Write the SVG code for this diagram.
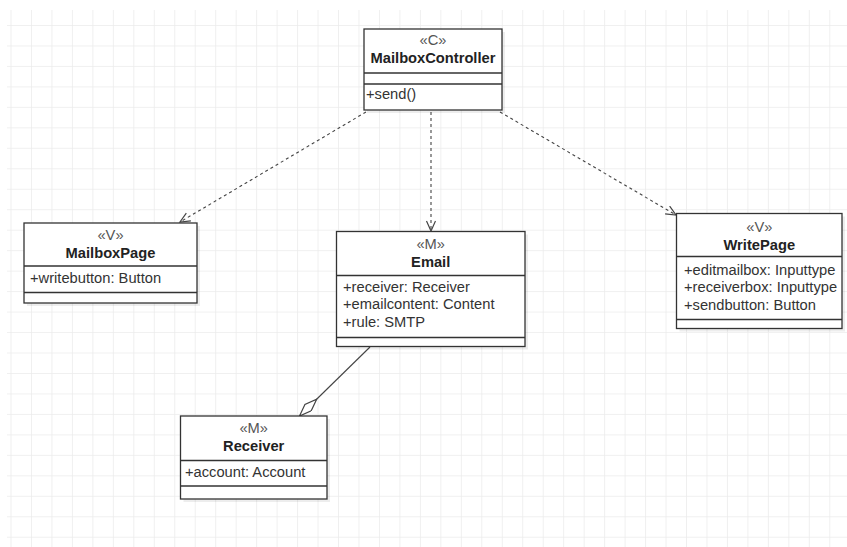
<svg xmlns="http://www.w3.org/2000/svg" width="847" height="547" viewBox="0 0 847 547">
<style>
text{font-family:"Liberation Sans",Arial,sans-serif;font-size:14.7px;fill:#333}
.st{text-anchor:middle;fill:#555}
.nm{text-anchor:middle;font-weight:bold;fill:#222}
.box{fill:#fff;stroke:#333;stroke-width:1.3}
.sh{fill:#000;opacity:0.07}
.dv{stroke:#333;stroke-width:1.3}
.dep{fill:none;stroke:#444;stroke-width:1.1;stroke-dasharray:3 3}
.agg{fill:none;stroke:#444;stroke-width:1.1}
</style>
<defs>
<pattern id="grid" patternUnits="userSpaceOnUse" x="10.5" y="25" width="20.47" height="20.47">
<path d="M0,0 V20.47 M0,0 H20.47" fill="none" stroke="#ebebeb" stroke-width="1.5"/>
</pattern>
<marker id="open" markerUnits="userSpaceOnUse" markerWidth="14" markerHeight="12" refX="11" refY="5" orient="auto" viewBox="0 0 14 12">
<path d="M1,0.5 L11,5 L1,9.5" fill="none" stroke="#444" stroke-width="1.2"/>
</marker>
<marker id="diamond" markerUnits="userSpaceOnUse" markerWidth="28" markerHeight="12" refX="25" refY="5" orient="auto" viewBox="0 0 28 12">
<path d="M1,5 L13,0.5 L25,5 L13,9.5 Z" fill="#fff" stroke="#444" stroke-width="1.2"/>
</marker>
</defs>
<rect width="847" height="547" fill="#fff"/>
<rect x="7" y="10" width="840" height="537" fill="url(#grid)"/>

<g id="connectors">
<line class="dep" x1="366" y1="112" x2="180" y2="222" marker-end="url(#open)"/>
<line class="dep" x1="431" y1="112" x2="431" y2="231" marker-end="url(#open)"/>
<line class="dep" x1="500" y1="112" x2="676" y2="215" marker-end="url(#open)"/>
<line class="agg" x1="370" y1="347" x2="299.5" y2="416" marker-end="url(#diamond)"/>
</g>

<g id="MailboxController">
<rect class="sh" x="367" y="32" width="138" height="81"/>
<rect class="box" x="364" y="29" width="138" height="81"/>
<line class="dv" x1="364" y1="73" x2="502" y2="73"/>
<line class="dv" x1="364" y1="84" x2="502" y2="84"/>
<text class="st" x="433" y="45">«C»</text>
<text class="nm" x="433" y="63">MailboxController</text>
<text x="366" y="99">+send()</text>
</g>

<g id="MailboxPage">
<rect class="sh" x="27" y="226" width="173" height="80"/>
<rect class="box" x="24" y="223" width="173" height="80"/>
<line class="dv" x1="24" y1="266" x2="197" y2="266"/>
<line class="dv" x1="24" y1="292.5" x2="197" y2="292.5"/>
<text class="st" x="110.5" y="240">«V»</text>
<text class="nm" x="110.5" y="258">MailboxPage</text>
<text x="30" y="283">+writebutton: Button</text>
</g>

<g id="Email">
<rect class="sh" x="339.5" y="234.5" width="188.5" height="115"/>
<rect class="box" x="336.5" y="231.5" width="188.5" height="115"/>
<line class="dv" x1="336.5" y1="275.5" x2="525" y2="275.5"/>
<line class="dv" x1="336.5" y1="337.5" x2="525" y2="337.5"/>
<text class="st" x="430.7" y="249">«M»</text>
<text class="nm" x="430.7" y="266.5">Email</text>
<text x="343" y="291.5">+receiver: Receiver</text>
<text x="343" y="309">+emailcontent: Content</text>
<text x="343" y="326.5">+rule: SMTP</text>
</g>

<g id="WritePage">
<rect class="sh" x="679.5" y="216.5" width="165.5" height="115"/>
<rect class="box" x="676.5" y="213.5" width="165.5" height="115"/>
<line class="dv" x1="676.5" y1="256.5" x2="842" y2="256.5"/>
<line class="dv" x1="676.5" y1="319.5" x2="842" y2="319.5"/>
<text class="st" x="759.3" y="231.5">«V»</text>
<text class="nm" x="759.3" y="250">WritePage</text>
<text x="684" y="275">+editmailbox: Inputtype</text>
<text x="684" y="292">+receiverbox: Inputtype</text>
<text x="684" y="309.5">+sendbutton: Button</text>
</g>

<g id="Receiver">
<rect class="sh" x="183.5" y="419" width="146.5" height="83"/>
<rect class="box" x="180.5" y="416" width="146.5" height="83"/>
<line class="dv" x1="180.5" y1="460.5" x2="327" y2="460.5"/>
<line class="dv" x1="180.5" y1="486" x2="327" y2="486"/>
<text class="st" x="253.7" y="433">«M»</text>
<text class="nm" x="253.7" y="450.5">Receiver</text>
<text x="185" y="477">+account: Account</text>
</g>
</svg>
